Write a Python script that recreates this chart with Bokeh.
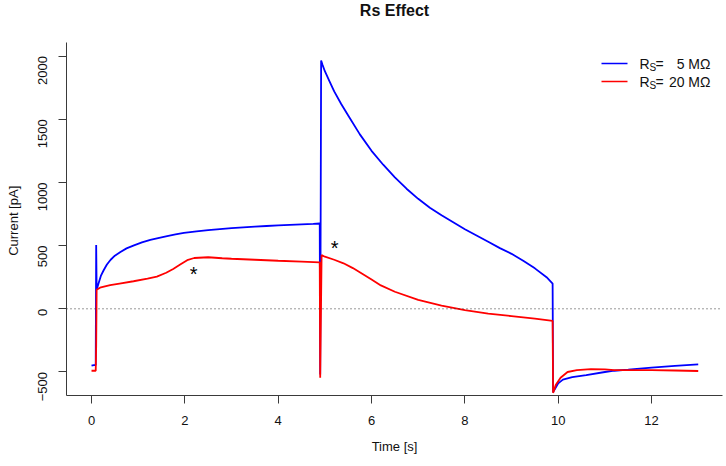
import math
from bokeh.plotting import figure
from bokeh.models import Range1d, Span, Label, Arrow, FixedTicker, Title
from bokeh.core.properties import value
from bokeh.embed import file_html
from bokeh.resources import INLINE

# ---------------- data ----------------
blue_t = [0.00, 0.05, 0.09, 0.10, 0.11, 0.15, 0.20, 0.26, 0.33, 0.41, 0.50, 0.62, 0.75, 0.91,
          1.08, 1.26, 1.45, 1.62, 1.80, 1.98, 2.25, 2.50, 2.75, 3.00, 3.25, 3.50, 3.75, 4.00,
          4.25, 4.50, 4.75, 4.89, 4.90, 4.92, 4.95, 5.00, 5.10, 5.20, 5.35, 5.50, 5.75, 6.00,
          6.25, 6.50, 6.75, 7.00, 7.25, 7.50, 7.75, 8.00, 8.25, 8.50, 8.75, 9.00, 9.25, 9.50,
          9.75, 9.88, 9.89, 9.92, 10.00, 10.10, 10.30, 10.60, 11.00, 11.20, 11.50, 12.00, 12.50,
          13.00]
blue_v = [-450, -445, -445, 505, 150, 200, 260, 305, 350, 388, 420, 450, 478, 502,
          525, 546, 562, 575, 588, 600, 612, 622, 630, 638, 644, 650, 655, 660,
          664, 668, 672, 675, -520, 1965, 1930, 1880, 1800, 1720, 1620, 1530, 1380, 1250,
          1140, 1040, 950, 870, 800, 740, 685, 630, 580, 530, 480, 435, 380, 320,
          250, 200, -660, -640, -590, -560, -540, -525, -500, -490, -482, -465, -452,
          -440]

red_t = [0.00, 0.09, 0.10, 0.11, 0.20, 0.40, 0.60, 0.90, 1.20, 1.40, 1.60, 1.75, 1.90, 2.05,
         2.20, 2.50, 2.80, 3.00, 3.50, 4.00, 4.50, 4.89, 4.90, 4.93, 5.00, 5.20, 5.40, 5.60,
         5.80, 6.00, 6.20, 6.50, 7.00, 7.50, 8.00, 8.50, 9.00, 9.50, 9.88, 9.89, 9.95, 10.05,
         10.20, 10.40, 10.70, 11.00, 11.20, 11.50, 12.00, 12.50, 13.00]
red_v = [-490, -490, -290, 150, 170, 188, 200, 218, 238, 255, 285, 315, 350, 385,
         402, 408, 400, 396, 388, 380, 374, 368, -545, 425, 412, 388, 360, 322,
         278, 232, 185, 135, 70, 25, -10, -38, -58, -78, -95, -665, -600, -545,
         -500, -486, -478, -480, -485, -485, -486, -488, -492]

star_t = [2.19, 5.21]
star_v = [295, 500]

x_ticks = [0, 2, 4, 6, 8, 10, 12]
y_ticks = [-500, 0, 500, 1000, 1500, 2000]

series_names = ["5 M\u03a9", "20 M\u03a9"]
series_colors = ["#0000ff", "#ff0000"]

FONT = "Liberation Sans"
W, H = 724, 462
BL, BR, BT, BB = 66, 2, 42, 67
FW, FH = W - BL - BR, H - BT - BB

p = figure(width=W, height=H, output_backend="svg", toolbar_location=None, title=None,
           x_range=Range1d(-0.536, 13.52), y_range=Range1d(-686, 2107),
           min_border_left=BL, min_border_right=BR, min_border_top=BT, min_border_bottom=BB)
p.grid.visible = False
p.outline_line_color = None
p.background_fill_color = "white"
p.border_fill_color = "white"

# spacer below the title (closest to the frame), then the title itself
p.add_layout(Title(text=" ", text_font=FONT, text_font_size="13px", standoff=5), "above")
p.add_layout(Title(text="Rs Effect", align="center", vertical_align="top", standoff=0,
                   text_font=FONT, text_font_size="16px", text_font_style="bold",
                   text_color="#111111"), "above")

for ax in (p.xaxis[0], p.yaxis[0]):
    ax.axis_line_color = "#3a3a3a"
    ax.major_tick_line_color = "#3a3a3a"
    ax.major_tick_out = 8
    ax.major_tick_in = 0
    ax.minor_tick_out = 0
    ax.minor_tick_in = 0
    ax.major_label_text_font = FONT
    ax.major_label_text_font_size = "13px"
    ax.major_label_text_color = "#111111"
    ax.axis_label_text_font = FONT
    ax.axis_label_text_font_size = "13px"
    ax.axis_label_text_font_style = "normal"
    ax.axis_label_text_color = "#111111"

p.xaxis.ticker = FixedTicker(ticks=x_ticks)
p.yaxis.ticker = FixedTicker(ticks=y_ticks)
p.xaxis.axis_label = "Time [s]"
p.yaxis.axis_label = "Current  [pA]"
p.xaxis.major_label_standoff = 12
p.xaxis.axis_label_standoff = 11
p.yaxis.major_label_standoff = 16
p.yaxis.axis_label_standoff = 10
p.yaxis.major_label_orientation = math.pi / 2

p.add_layout(Span(location=0, dimension="width", line_color="#333333",
                  line_dash="1 3", line_width=1))

p.line(blue_t, blue_v, line_color=series_colors[0], line_width=1.8)
p.line(red_t, red_v, line_color=series_colors[1], line_width=1.8)

p.text(x=star_t, y=star_v, text=["*"] * len(star_t), text_font=value(FONT),
       text_font_size="20px", text_align="center", text_baseline="middle",
       y_offset=2, text_color="black")

# legend (manual, frame-relative screen units)
rows_y = [FH - 21, FH - 39]
for i, name in enumerate(series_names):
    yy = rows_y[i]
    p.add_layout(Arrow(end=None, x_start=535, y_start=yy, x_end=561, y_end=yy,
                       start_units="screen", end_units="screen",
                       line_color=series_colors[i], line_width=1.5))
    p.add_layout(Label(x=573, y=yy, x_units="screen", y_units="screen", text="R",
                       text_font=FONT, text_font_size="14px", text_baseline="middle",
                       text_color="#111111"))
    p.add_layout(Label(x=583, y=yy - 4, x_units="screen", y_units="screen", text="S",
                       text_font=FONT, text_font_size="10px", text_baseline="middle",
                       text_color="#111111"))
    p.add_layout(Label(x=589, y=yy, x_units="screen", y_units="screen", text="=",
                       text_font=FONT, text_font_size="14px", text_baseline="middle",
                       text_color="#111111"))
    p.add_layout(Label(x=644, y=yy, x_units="screen", y_units="screen", text=name,
                       text_font=FONT, text_font_size="14px", text_baseline="middle",
                       text_align="right", text_color="#111111"))

open("out.html", "w").write(file_html(p, INLINE))
